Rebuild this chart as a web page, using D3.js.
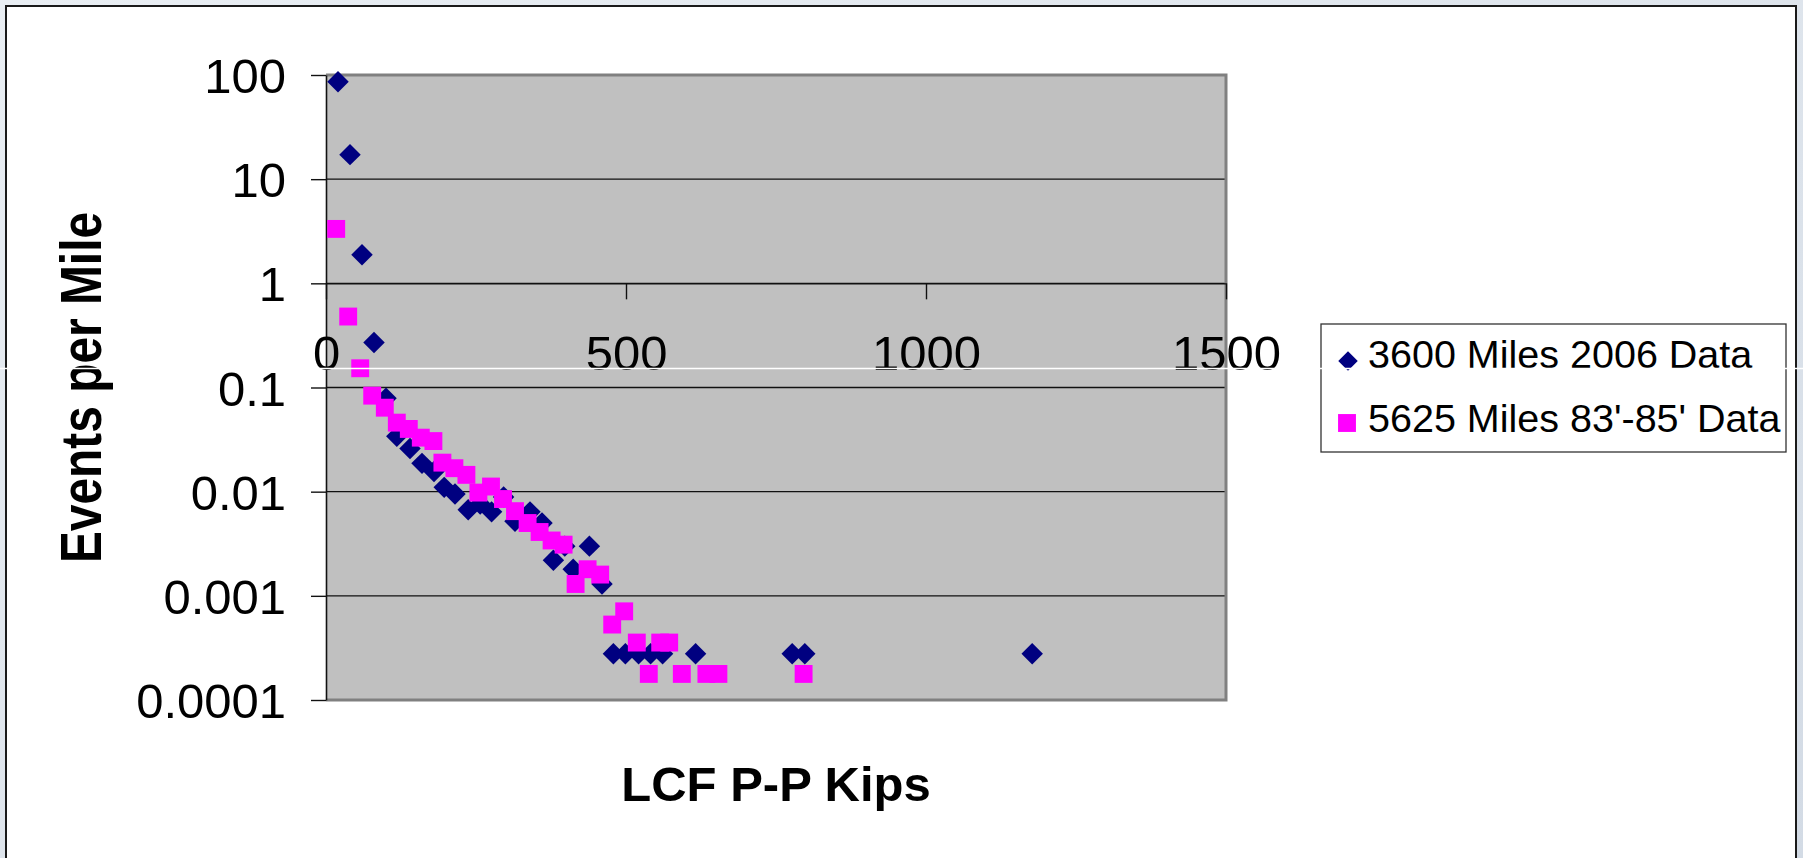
<!DOCTYPE html>
<html>
<head>
<meta charset="utf-8">
<script src="https://cdn.jsdelivr.net/npm/d3@7"></script>
<style>
    html, body { margin: 0; padding: 0; background: #dde4ec; }
    svg { display: block; }
</style>
</head>
<body>
<script>
// chart values
var kips2006   = [20, 40, 60, 80, 100, 118, 140, 160, 180, 197, 215, 237, 257, 276, 296, 315, 340, 360, 379, 398, 412, 439, 460,
                  479, 499, 521, 541, 561, 616, 777, 798, 1177];
var events2006 = [86, 17.2, 1.88, 0.27, 0.079, 0.034, 0.026, 0.0187, 0.0156, 0.011, 0.0095, 0.0067, 0.0076, 0.0064, 0.0089, 0.0052, 0.0064, 0.005, 0.0022, 0.003, 0.0018, 0.003, 0.0013,
                  0.000278, 0.000278, 0.000278, 0.000278, 0.000278, 0.000278, 0.000278, 0.000278, 0.000278];

var kips8385   = [17, 37, 57, 77, 98, 118, 138, 158, 179, 194, 214, 234, 254, 275, 295, 315, 336, 356, 376, 396, 416, 436, 457,
                  477, 497, 518, 538, 557, 572, 593, 634, 654, 796];
var events8385 = [3.33, 0.48, 0.153, 0.0835, 0.064, 0.046, 0.040, 0.033, 0.0306, 0.019, 0.0168, 0.0145, 0.0098, 0.0112, 0.0085, 0.0065, 0.005, 0.0041, 0.0034, 0.0031, 0.0013, 0.0018, 0.0016,
                  0.00053, 0.00071, 0.000356, 0.000178, 0.000356, 0.000356, 0.000178, 0.000178, 0.000178, 0.000178];

var seriesNames  = ["3600 Miles 2006 Data", "5625 Miles 83'-85' Data"];
var seriesColors = ["#000080", "#ff00ff"];

var xTickValues = [0, 500, 1000, 1500];
var yTickValues = [100, 10, 1, 0.1, 0.01, 0.001, 0.0001];
var yTickLabels = ["100", "10", "1", "0.1", "0.01", "0.001", "0.0001"];

var W = 1803, H = 858;
var FONT = "'Liberation Sans', Arial, sans-serif";

var svg = d3.select("body").append("svg")
    .attr("width", W)
    .attr("height", H);

var x = d3.scaleLinear().domain([0, 1500]).range([326, 1226]);
var y = d3.scaleLog().domain([0.0001, 100]).range([700, 75]);

/*
 * slide background and the white chart frame
 */
function renderFrame(svg) {
    var grad = svg.append("defs").append("linearGradient")
        .attr("id", "bg").attr("x1", 0).attr("y1", 0).attr("x2", 1).attr("y2", 1);
    grad.append("stop").attr("offset", "0%").attr("stop-color", "#e9eef3");
    grad.append("stop").attr("offset", "100%").attr("stop-color", "#d3dbe5");

    svg.append("rect")
        .attr("width", W).attr("height", H)
        .attr("fill", "url(#bg)");

    svg.append("rect")
        .attr("x", 6).attr("y", 6)
        .attr("width", 1790).attr("height", H + 20)
        .attr("fill", "#ffffff")
        .attr("stroke", "#1a1a1a")
        .attr("stroke-width", 2);
    return svg;
}

/*
 * grey plot area, gridlines and axes
 */
function renderPlot(svg) {
    var x0 = x.range()[0], x1 = x.range()[1];
    var yTop = y.range()[1], yBot = y.range()[0];

    svg.append("rect")
        .attr("x", x0).attr("y", yTop)
        .attr("width", x1 - x0).attr("height", yBot - yTop)
        .attr("fill", "#c0c0c0");

    // horizontal gridlines at each decade
    svg.append("g").selectAll("line")
        .data(yTickValues.slice(1, -1))
        .enter().append("line")
        .attr("x1", x0).attr("x2", x1)
        .attr("y1", function(d) { return y(d); })
        .attr("y2", function(d) { return y(d); })
        .style("stroke", "#111")
        .style("stroke-width", 1.4);

    // plot border (grey on top/right/bottom)
    svg.append("path")
        .attr("d", "M" + x0 + "," + yTop + "H" + x1 + "V" + yBot + "H" + x0)
        .attr("fill", "none")
        .style("stroke", "#808080")
        .style("stroke-width", 3);

    // y axis
    var yAxis = d3.axisLeft(y)
        .tickValues(yTickValues)
        .tickFormat(function(d, i) { return yTickLabels[i]; })
        .tickSize(15)
        .tickSizeOuter(0)
        .tickPadding(25);
    var gy = svg.append("g")
        .attr("transform", "translate(" + x0 + ",0)")
        .call(yAxis);
    gy.select(".domain").style("stroke", "#111").style("stroke-width", 1.6);
    gy.selectAll(".tick line").style("stroke", "#111").style("stroke-width", 1.4);
    gy.selectAll(".tick text")
        .attr("font-family", FONT)
        .attr("font-size", 49)
        .attr("fill", "#000")
        .attr("dy", "0.36em");

    // x axis crosses at 1
    var xAxis = d3.axisBottom(x)
        .tickValues(xTickValues)
        .tickFormat(d3.format("d"))
        .tickSize(16)
        .tickSizeOuter(0)
        .tickPadding(36);
    var gx = svg.append("g")
        .attr("transform", "translate(0," + y(1) + ")")
        .call(xAxis);
    gx.select(".domain").style("stroke", "#111").style("stroke-width", 1.4);
    gx.selectAll(".tick line").style("stroke", "#111").style("stroke-width", 1.4);
    gx.selectAll(".tick text")
        .attr("font-family", FONT)
        .attr("font-size", 49)
        .attr("fill", "#000");

    return svg;
}

/*
 * scatter markers: navy diamonds then magenta squares on top
 */
function renderPoints(svg) {
    var pts2006 = kips2006.map(function(k, i) { return [k, events2006[i]]; });
    var pts8385 = kips8385.map(function(k, i) { return [k, events8385[i]]; });

    var diamond = d3.symbol().type(d3.symbolSquare).size(230);
    var square  = d3.symbol().type(d3.symbolSquare).size(320);

    svg.append("g").selectAll("path")
        .data(pts2006)
        .enter().append("path")
        .attr("d", diamond)
        .attr("transform", function(d) { return "translate(" + x(d[0]) + "," + y(d[1]) + ") rotate(45)"; })
        .attr("fill", seriesColors[0]);

    svg.append("g").selectAll("path")
        .data(pts8385)
        .enter().append("path")
        .attr("d", square)
        .attr("transform", function(d) { return "translate(" + x(d[0]) + "," + y(d[1]) + ")"; })
        .attr("fill", seriesColors[1]);
    return svg;
}

/*
 * axis titles
 */
function renderTitles(svg) {
    svg.append("text")
        .attr("x", (x.range()[0] + x.range()[1]) / 2)
        .attr("y", 801)
        .attr("text-anchor", "middle")
        .attr("font-family", FONT)
        .attr("font-weight", "bold")
        .attr("font-size", 49)
        .text("LCF P-P Kips");

    svg.append("text")
        .attr("transform", "translate(101," + (y.range()[0] + y.range()[1]) / 2 + ") rotate(-90) scale(0.84,1)")
        .attr("text-anchor", "middle")
        .attr("font-family", FONT)
        .attr("font-weight", "bold")
        .attr("font-size", 57)
        .text("Events per Mile");
    return svg;
}

/*
 * legend box at the right
 */
function renderLegend(svg) {
    svg.append("rect")
        .attr("x", 1321).attr("y", 324)
        .attr("width", 465).attr("height", 128)
        .attr("fill", "#fff")
        .attr("stroke", "#333")
        .attr("stroke-width", 1.3);

    var legend = svg.append("g")
        .selectAll("g")
        .data(seriesNames)
        .enter().append("g")
        .attr("transform", function(d, i) { return "translate(1348," + (368 + i * 64) + ")"; });

    legend.append("path")
        .attr("d", function(d, i) { return d3.symbol().type(d3.symbolSquare).size(i === 0 ? 190 : 320)(); })
        .attr("transform", function(d, i) { return i === 0 ? "translate(0,-7) rotate(45)" : "translate(-1,-9)"; })
        .attr("fill", function(d, i) { return seriesColors[i]; });

    legend.append("text")
        .attr("x", 20)
        .attr("y", 0)
        .attr("font-family", FONT)
        .attr("font-size", 39.5)
        .attr("fill", "#000")
        .text(function(d) { return d; });
    return svg;
}

renderFrame(svg);
renderPlot(svg);
renderPoints(svg);
renderTitles(svg);
renderLegend(svg);

// thin white streak crossing the whole slide picture
svg.append("line")
    .attr("x1", 0).attr("x2", W)
    .attr("y1", 368.5).attr("y2", 368.5)
    .style("stroke", "#ffffff")
    .style("stroke-width", 1.5);
</script>
</body>
</html>
